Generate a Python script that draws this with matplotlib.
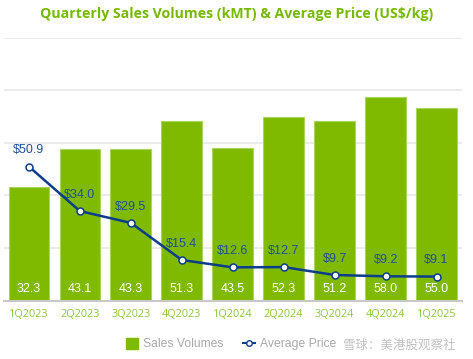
import matplotlib
matplotlib.use("Agg")
import matplotlib.pyplot as plt
from matplotlib.lines import Line2D
from matplotlib.patches import Patch
import numpy as np

quarters = ["1Q2023", "2Q2023", "3Q2023", "4Q2023", "1Q2024", "2Q2024", "3Q2024", "4Q2024", "1Q2025"]
volumes = [32.3, 43.1, 43.3, 51.3, 43.5, 52.3, 51.2, 58.0, 55.0]
prices = [50.9, 34.0, 29.5, 15.4, 12.6, 12.7, 9.7, 9.2, 9.1]

plt.rcParams['font.family'] = ['Open Sans', 'Noto Sans CJK SC', 'DejaVu Sans']
arial = ['Liberation Sans', 'DejaVu Sans']

fig = plt.figure(figsize=(4.73, 3.59), dpi=100)
ax = fig.add_axes([3.5/473, 1 - 300.5/359, (462-3.5)/473, (300.5-37.5)/359])
x = np.arange(len(quarters))

green = '#7fba00'
blue = '#0b3d8c'

ax.bar(x, volumes, width=0.8, color=green, edgecolor='#a8d65a', linewidth=0.8, zorder=2)
ax.set_ylim(0, 75)
ax.set_xlim(-0.5, len(quarters) - 0.5)
ax.set_yticks([0, 15, 30, 45, 60, 75])
ax.yaxis.grid(True, color='#e8e8e8', linewidth=1.2, zorder=0)
ax.set_axisbelow(True)
ax.set_xticks(x)
ax.set_xticklabels(quarters)
for s in ['top', 'right', 'left']:
    ax.spines[s].set_visible(False)
ax.spines['bottom'].set_color('#c8c8c8')
ax.spines['bottom'].set_linewidth(1.5)

for xi, v in zip(x, volumes):
    ax.text(xi, 3.3, f"{v:.1f}", ha='center', va='center', color='white', fontsize=9,
            family=arial, zorder=4)

ax2 = ax.twinx()
ax2.set_ylim(0, 100)
ax2.plot(x, prices, color=blue, linewidth=1.8, marker='o', markersize=5,
         markerfacecolor='white', markeredgecolor=blue, markeredgewidth=1.1, zorder=5)
ax2.axis('off')
for xi, p in zip(x, prices):
    ax2.text(xi, p + 6.2, f"${p:.1f}", ha='center', va='center', color='#1f4f99',
             fontsize=9, family=arial)

ax.tick_params(axis='y', left=False, right=False, labelleft=False, labelright=False)
ax.tick_params(axis='x', length=0, pad=6, labelsize=7.8, labelcolor='#8cc63f')

fig.text(0.5, 1 - 14/359, "Quarterly Sales Volumes (kMT) & Average Price (US$/kg)",
         ha='center', va='center', color='#76b900', fontsize=10.2, fontweight='bold')

handles = [Patch(facecolor=green, edgecolor=green),
           Line2D([0], [0], color=blue, marker='o', markersize=4, markerfacecolor='white',
                  markeredgecolor=blue, linewidth=1.5)]
leg = fig.legend(handles, ["Sales Volumes", "Average Price"], loc='center left',
                 bbox_to_anchor=(126/473, 1 - 344/359), ncol=2, frameon=False,
                 prop={'family': arial, 'size': 8.7}, handlelength=1.0, handleheight=1.0,
                 columnspacing=1.6, handletextpad=0.4, borderaxespad=0, borderpad=0)
for t in leg.get_texts():
    t.set_color('#a8a8a8')

fig.text(343/473, 1 - 345/359, "雪球：美港股观察社", ha='left', va='center',
         color='#c0c0c0', fontsize=9.0, family=['Noto Sans CJK SC', 'DejaVu Sans'])

fig.savefig("out.png", dpi=100, facecolor='white')
